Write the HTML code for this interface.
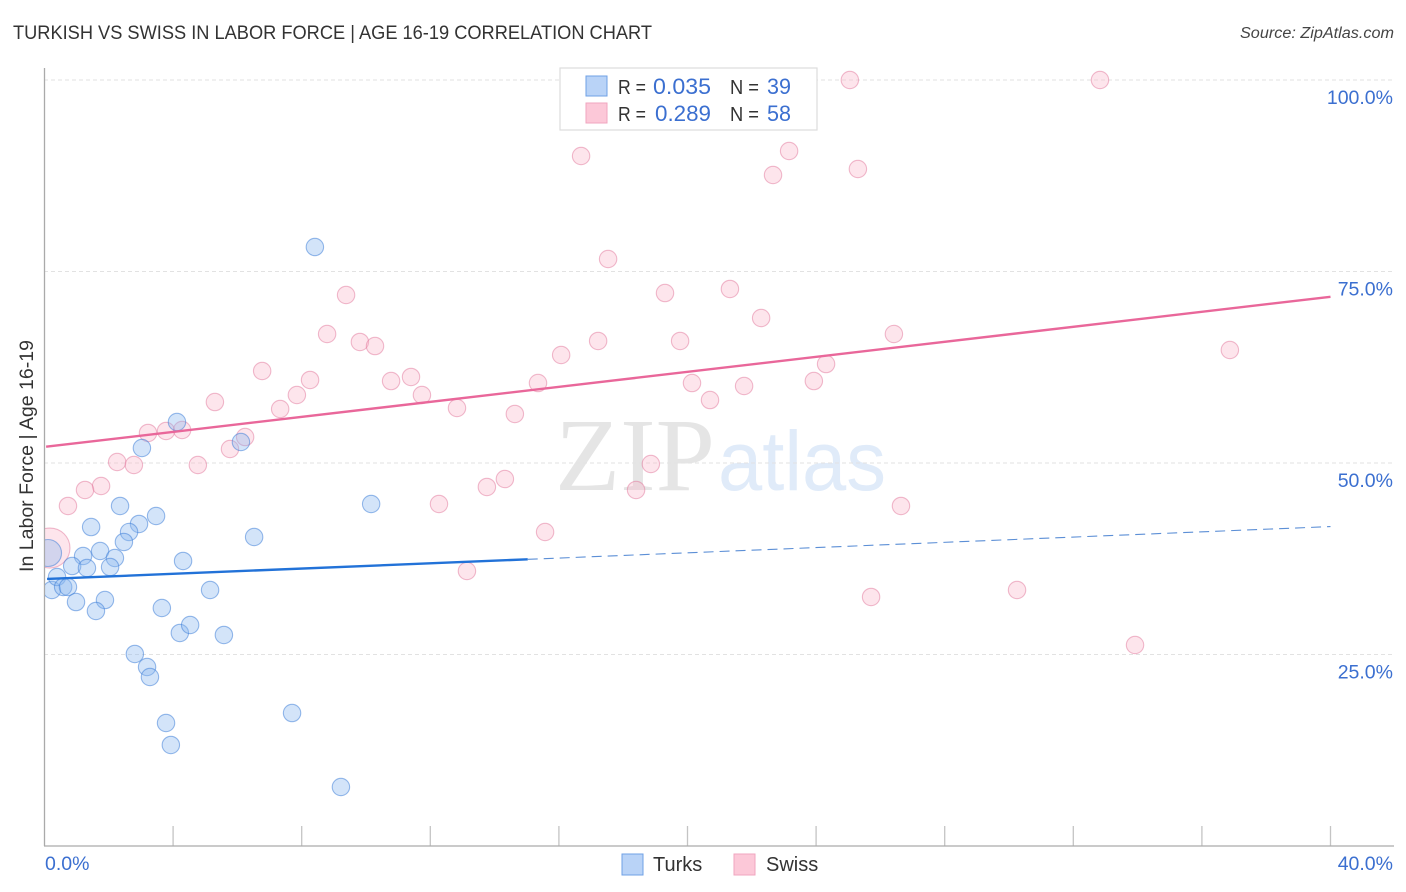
<!DOCTYPE html>
<html lang="en">
<head>
<meta charset="utf-8">
<title>Turkish vs Swiss in Labor Force | Age 16-19 Correlation Chart</title>
<style>
html,body{margin:0;padding:0;background:#fff;width:1406px;height:892px;overflow:hidden}
svg{display:block;font-family:"Liberation Sans",sans-serif}
</style>
</head>
<body>
<svg id="chart" xmlns="http://www.w3.org/2000/svg" width="1406" height="892" viewBox="0 0 1406 892">
  <defs>
    <clipPath id="plot-clip"><rect x="45" y="60" width="1349" height="786"/></clipPath>
  </defs>
  <text x="13" y="39" font-size="19.5" fill="#333" textLength="639" lengthAdjust="spacingAndGlyphs">TURKISH VS SWISS IN LABOR FORCE | AGE 16-19 CORRELATION CHART</text>
  <text x="1394" y="38" font-size="15.5" font-style="italic" fill="#444" text-anchor="end" textLength="154" lengthAdjust="spacingAndGlyphs">Source: ZipAtlas.com</text>

  <g id="watermark">
    <text x="555" y="490" font-family="'Liberation Serif',serif" font-size="104" fill="#e5e5e5" textLength="160" lengthAdjust="spacingAndGlyphs">ZIP</text>
    <text x="718" y="490" font-size="84" fill="#e0ebf9" textLength="168" lengthAdjust="spacingAndGlyphs">atlas</text>
  </g>

  <g id="grid"></g>
  <g id="x-ticks"></g>
  <line x1="44.5" y1="68" x2="44.5" y2="846" stroke="#aaa" stroke-width="1.3"/>
  <line x1="44" y1="846" x2="1394" y2="846" stroke="#aaa" stroke-width="1.3"/>

  <g id="points" clip-path="url(#plot-clip)"></g>
  <g id="trends"></g>
  <g id="tick-labels"></g>

  <text transform="translate(33,456) rotate(-90)" font-size="19.5" fill="#333" text-anchor="middle" textLength="232" lengthAdjust="spacingAndGlyphs">In Labor Force | Age 16-19</text>

  <g>
    <rect x="560" y="68" width="257" height="62" fill="#fff" stroke="#ddd" stroke-width="1.2"/>
    <rect x="586" y="76" width="21" height="20" fill="#b9d3f7" stroke="#6fa0e6" stroke-width="1"/>
    <rect x="586" y="103" width="21" height="20" fill="#fcc8d8" stroke="#f0a6bf" stroke-width="1"/>
    <text x="618" y="94" font-size="20" fill="#333" textLength="28" lengthAdjust="spacingAndGlyphs">R =</text>
    <text x="653" y="94" font-size="22" fill="#3b6fd0" textLength="58" lengthAdjust="spacingAndGlyphs">0.035</text>
    <text x="730" y="94" font-size="20" fill="#333" textLength="29" lengthAdjust="spacingAndGlyphs">N =</text>
    <text x="767" y="94" font-size="22" fill="#3b6fd0" textLength="24" lengthAdjust="spacingAndGlyphs">39</text>
    <text x="618" y="121" font-size="20" fill="#333" textLength="28" lengthAdjust="spacingAndGlyphs">R =</text>
    <text x="655" y="121" font-size="22" fill="#3b6fd0" textLength="56" lengthAdjust="spacingAndGlyphs">0.289</text>
    <text x="730" y="121" font-size="20" fill="#333" textLength="29" lengthAdjust="spacingAndGlyphs">N =</text>
    <text x="767" y="121" font-size="22" fill="#3b6fd0" textLength="24" lengthAdjust="spacingAndGlyphs">58</text>
  </g>

  <g>
    <rect x="622" y="854" width="21" height="21" fill="#b9d3f7" stroke="#6fa0e6" stroke-width="1"/>
    <text x="653" y="871" font-size="20" fill="#333">Turks</text>
    <rect x="734" y="854" width="21" height="21" fill="#fcc8d8" stroke="#f0a6bf" stroke-width="1"/>
    <text x="766" y="871" font-size="20" fill="#333">Swiss</text>
  </g>
</svg>
<script>
var turksX = [8.41,4.12,3.03,6.11,10.16,2.35,3.47,1.45,2.94,2.63,6.52,2.47,1.73,1.20,2.19,4.31,0.86,1.32,2.04,0.23,0.39,0.58,0.73,0.98,1.88,1.60,3.65,5.15,4.21,4.53,5.58,2.81,3.19,3.28,3.78,3.93,7.70,9.22,0.11];
var turksY = [78.2,55.35,51.96,52.74,44.65,44.39,43.08,41.64,42.04,40.99,40.34,39.69,38.51,37.86,37.6,37.21,36.55,36.29,36.42,33.42,35.12,33.81,33.81,31.85,32.11,30.68,31.07,33.42,27.81,28.85,27.55,25.07,23.37,22.06,16.06,13.19,17.36,7.70,38.25];
var swissX = [25.05,32.83,16.69,23.16,22.66,25.30,17.53,9.38,19.30,21.32,22.29,8.79,9.81,10.28,17.22,19.77,26.42,36.87,16.07,6.77,24.31,8.26,10.78,11.40,15.35,20.14,21.76,23.93,7.85,11.74,5.30,20.70,7.33,12.83,14.63,3.22,3.78,4.28,6.24,5.77,2.26,2.78,4.77,18.86,14.32,13.76,1.76,1.26,18.40,0.73,12.27,26.64,15.57,13.14,25.71,30.25,33.92,0.17];
var swissY = [100,100,90.08,90.73,87.6,88.38,76.63,71.93,72.19,72.72,68.93,66.84,65.8,65.27,65.93,65.93,66.84,64.75,64.1,62.01,62.92,60.84,60.7,61.23,60.44,60.44,60.05,60.7,58.88,58.88,57.96,58.22,57.05,57.18,56.4,53.92,54.18,54.31,53.39,51.83,50.13,49.74,49.74,49.87,47.91,46.87,47.0,46.48,46.48,44.39,44.65,44.39,40.99,35.9,32.51,33.42,26.24,38.9];
var yTickValues = [100,75,50,25];
var yTickLabels = ["100.0%","75.0%","50.0%","25.0%"];
var xTickValues = [4,8,12,16,20,24,28,32,36,40];
var xEndLabels = ["0.0%","40.0%"];
var turksTrend = [34.85,41.7];
var swissTrend = [52.1,71.7];
var turksSolidEnd = 15.03;

var NS = "http://www.w3.org/2000/svg";
function sx(v){ return 44.5 + v * (1330.5 - 44.5) / 40; }
function sy(v){ return 846 - v * (846 - 80) / 100; }
function trendAt(t, x){ return t[0] + (t[1] - t[0]) * x / 40; }
function make(tag, attrs, parent){
  var el = document.createElementNS(NS, tag);
  for (var k in attrs) el.setAttribute(k, attrs[k]);
  parent.appendChild(el);
  return el;
}

var grid = document.getElementById("grid");
yTickValues.forEach(function(v){
  var el = make("line", {x1:44, x2:1394, y1:sy(v), y2:sy(v), stroke:"#e2e2e2", "stroke-width":1, "stroke-dasharray":"4 3"}, grid);
  
  
});

var xt = document.getElementById("x-ticks");
xTickValues.forEach(function(v){
  var el = make("line", {x1:sx(v), x2:sx(v), y1:826, y2:846, stroke:"#c4c4c4", "stroke-width":1.3}, xt);
  
  
});

var labels = document.getElementById("tick-labels");
yTickValues.forEach(function(v, i){
  var el = make("text", {x:1393, y:sy(v) + 24, "font-size":19.5, fill:"#3b6fd0", "text-anchor":"end"}, labels);
  el.textContent = yTickLabels[i];
  
  
});
var x0 = make("text", {x:45, y:870, "font-size":19.5, fill:"#3b6fd0"}, labels);
x0.textContent = xEndLabels[0];


var x1 = make("text", {x:1393, y:870, "font-size":19.5, fill:"#3b6fd0", "text-anchor":"end"}, labels);
x1.textContent = xEndLabels[1];



var pts = document.getElementById("points");
function drawSeries(xs, ys, fill, stroke, bigR, name){
  xs.forEach(function(v, i){
    var r = (i === xs.length - 1) ? bigR : 8.7;
    var c = make("circle", {cx:sx(v), cy:sy(ys[i]), r:r, fill:fill, stroke:stroke, "stroke-width":1.1}, pts);
    
    
  });
}
drawSeries(swissX, swissY, "rgba(250,180,200,0.34)", "rgba(226,120,155,0.5)", 20, "swiss-point");
drawSeries(turksX, turksY, "rgba(140,185,240,0.38)", "rgba(60,125,215,0.52)", 13.5, "turks-point");

var tr = document.getElementById("trends");
var l1 = make("line", {x1:sx(0.08), y1:sy(trendAt(turksTrend,0.08)), x2:sx(turksSolidEnd), y2:sy(trendAt(turksTrend,turksSolidEnd)), stroke:"#2272d8", "stroke-width":2.4}, tr);


var l2 = make("line", {x1:sx(turksSolidEnd), y1:sy(trendAt(turksTrend,turksSolidEnd)), x2:sx(40), y2:sy(trendAt(turksTrend,40)), stroke:"#5c8fd6", "stroke-width":1.1, "stroke-dasharray":"10 6"}, tr);


var l3 = make("line", {x1:sx(0.05), y1:sy(trendAt(swissTrend,0.05)), x2:sx(40), y2:sy(trendAt(swissTrend,40)), stroke:"#e9679a", "stroke-width":2.4}, tr);


</script>
</body>
</html>
